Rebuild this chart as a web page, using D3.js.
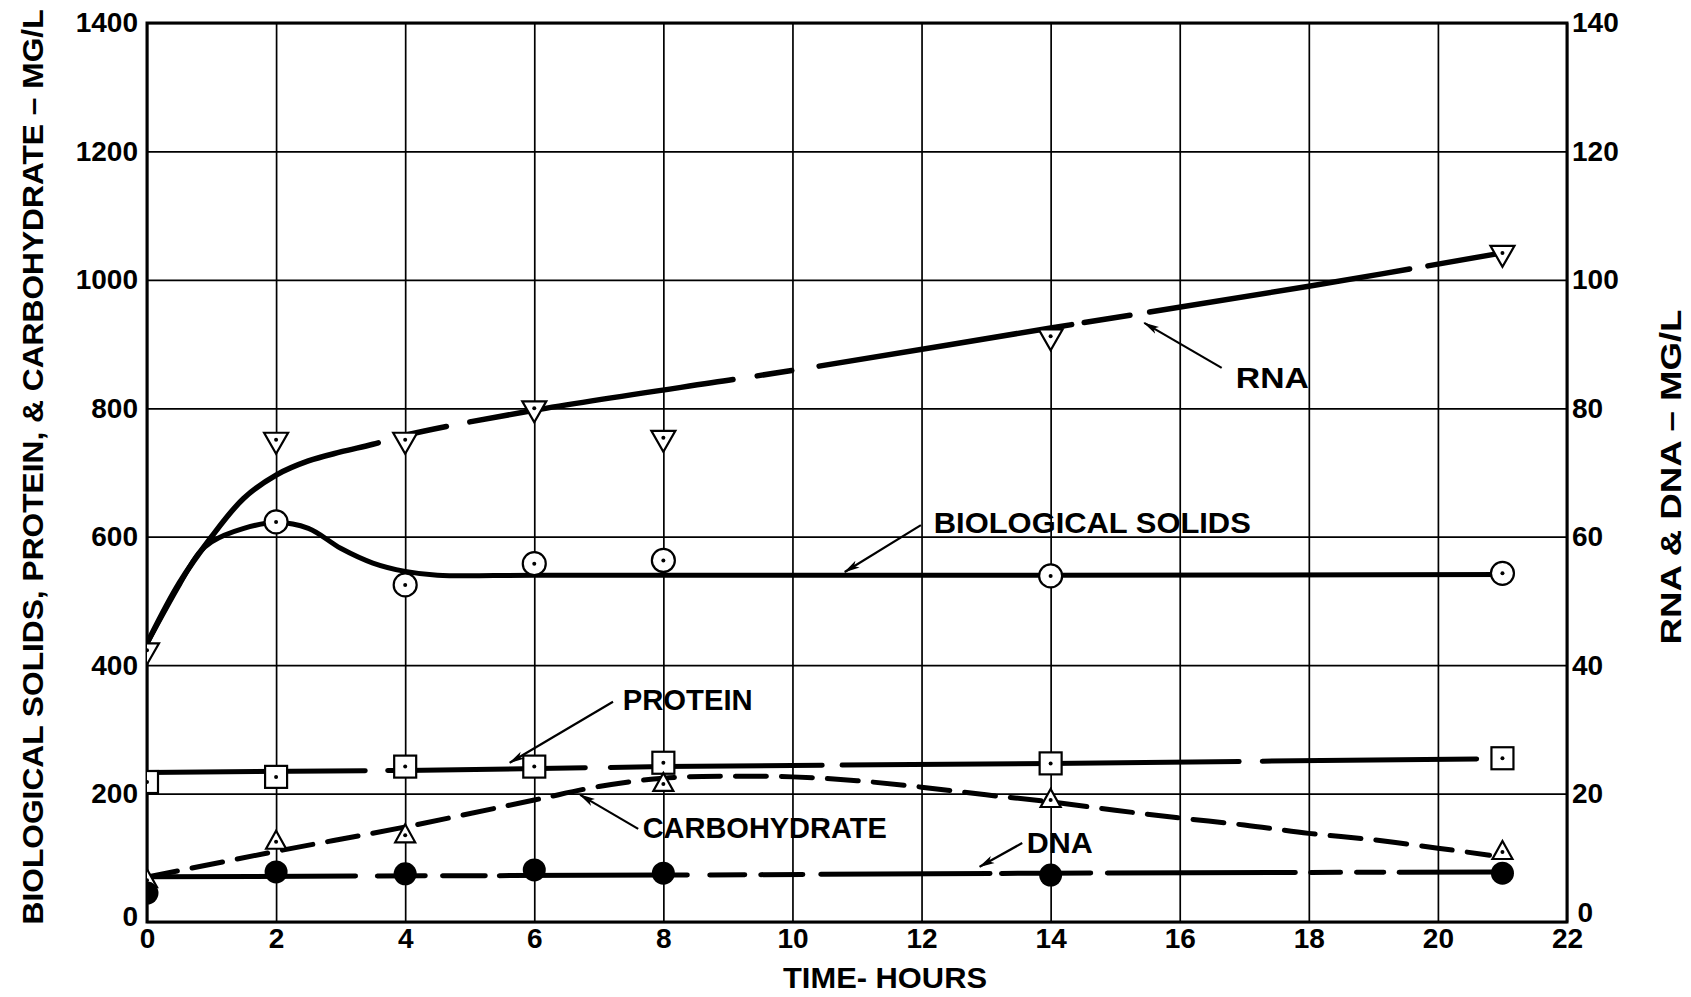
<!DOCTYPE html>
<html><head><meta charset="utf-8">
<script src="https://cdn.jsdelivr.net/npm/d3@7"></script>
<style>
html,body{margin:0;padding:0;background:#fff;}
svg{display:block;}
text{font-family:"Liberation Sans",Arial,sans-serif;font-weight:bold;fill:#000;}
</style></head><body>
<svg id="chart" width="1691" height="997"></svg>
<script>
// ---------------- DATA ----------------
const xTicks = [0,2,4,6,8,10,12,14,16,18,20,22];
const yLeftTicks = [0,200,400,600,800,1000,1200,1400];
const yRightTicks = [0,20,40,60,80,100,120,140];

// measured points (hours)
const rnaHours = [0,2,4,6,8,14,21];
const rnaValues = [42.3,75.1,75.1,80.0,75.4,91.2,104.2];          // right axis, mg/L
const solidsHours = [2,4,6,8,14,21];
const solidsValues = [623,525,558,563,539,543];                  // left axis
const proteinHours = [0,2,4,6,8,14,21];
const proteinValues = [218,226,242,242,248,247,255];             // left axis
const carbHours = [0,2,4,8,14,21];
const carbValues = [65,125,135,215,190,109];                     // left axis
const dnaHours = [0,2,4,6,8,14,21];
const dnaValues = [4.5,7.8,7.5,8.1,7.6,7.3,7.6];                 // right axis

// hand-fitted curves as drawn on the chart
const rnaCurveHours = [0,0.5,1,1.5,2,2.5,3,3.5,4,6,10,14,18,21];
const rnaCurveValues = [43.4,52.8,60.0,66.0,69.6,71.8,73.2,74.4,75.8,79.7,85.9,92.5,99.0,104.2];
const solidsCurveHours = [0,0.5,0.8,1,1.5,2,2.5,3,3.5,4,4.5,6,10,14,21];
const solidsCurveValues = [434,525,574,592,613,622,613,582,559,546,540,540,540,540,541];
const proteinLineHours = [0,4,8,14,20.6];
const proteinLineValues = [233,236,242,247,254];
const carbLineHours = [0,2,4,6,7,8,9,10,11,12,13,14,15,16,17,18,19,20,20.8];
const carbLineValues = [70,110,148,190,211,224,227,226,220,210,198,187,174,162,151,138,128,115,104];
const dnaLineHours = [0,8,14,21];
const dnaLineValues = [7.05,7.3,7.6,7.8];

const annotationLabels = ["RNA","BIOLOGICAL SOLIDS","PROTEIN","CARBOHYDRATE","DNA"];

// ---------------- LAYOUT / STYLE ----------------
const W = 1691, H = 997;
const plot = {left:147, top:23, right:1567, bottom:922};
// drawn (solid) stretches of each broken line, in hours
const rnaSolid = [[0,3.62],[3.95,4.68],[4.96,9.12],[9.41,10.03],[10.37,14.37],[14.48,15.27],[15.49,19.6],[19.8,21]];
const proteinSolid = [[0,3.42],[3.69,6.83],[7.14,10.5],[10.73,16.96],[17.24,20.6]];
const dnaSolid = [[0,3.27],[3.53,4.35],[4.54,5.28],[5.42,8.41],[8.68,9.3],[9.47,10.2],[10.4,13.1],[13.2,14.66],[14.84,17.83],[17.99,18.53],[18.7,19.2],[19.36,21]];
// annotation layout: text anchor (hours, left-axis units), text width px, arrow tail & head
const annotationLayout = [
  {t:16.87, v:832, w:73,  from:[16.65,863], to:[15.45,933]},
  {t:12.19, v:606, w:317, from:[11.99,618], to:[10.81,545]},
  {t:7.37,  v:330, w:130, from:[7.22,343],  to:[5.62,248]},
  {t:7.68,  v:131, w:244, from:[7.61,145],  to:[6.71,198]},
  {t:13.63, v:107, w:66,  from:[13.56,123], to:[12.9,86]}
];

const svg = d3.select("#chart");
svg.append("rect").attr("width",W).attr("height",H).attr("fill","#fff");

const x = d3.scaleLinear().domain([0,22]).range([plot.left, plot.right]);
const yL = d3.scaleLinear().domain([0,1400]).range([plot.bottom, plot.top]);
const yR = d3.scaleLinear().domain([0,140]).range([plot.bottom, plot.top]);

const defs = svg.append("defs");
defs.append("clipPath").attr("id","plotClip").append("rect")
  .attr("x",plot.left).attr("y",plot.top-20).attr("width",plot.right-plot.left).attr("height",plot.bottom-plot.top+20);
defs.append("marker").attr("id","arrow").attr("viewBox","0 0 16 10").attr("refX",15).attr("refY",5)
  .attr("markerWidth",16).attr("markerHeight",10).attr("markerUnits","userSpaceOnUse").attr("orient","auto")
  .append("path").attr("d","M0,1 L16,5 L0,9 L4,5 Z").attr("fill","#000");

// ---------------- GRID ----------------
const gx = svg.append("g").attr("transform",`translate(0,${plot.bottom})`)
  .call(d3.axisBottom(x).tickValues(xTicks).tickSize(-(plot.bottom-plot.top)).tickFormat(""));
gx.select(".domain").remove();
gx.selectAll("line").attr("stroke","#000").attr("stroke-width",1.7);
const gy = svg.append("g").attr("transform",`translate(${plot.left},0)`)
  .call(d3.axisLeft(yL).tickValues(yLeftTicks).tickSize(-(plot.right-plot.left)).tickFormat(""));
gy.select(".domain").remove();
gy.selectAll("line").attr("stroke","#000").attr("stroke-width",1.7);

svg.append("rect").attr("x",plot.left).attr("y",plot.top)
  .attr("width",plot.right-plot.left).attr("height",plot.bottom-plot.top)
  .attr("fill","none").attr("stroke","#000").attr("stroke-width",3);

// ---------------- AXIS LABELS ----------------
function styleAxis(g){
  g.select(".domain").remove();
  g.attr("font-family",null).attr("font-size",null);
  g.selectAll("text").attr("font-size",28).attr("fill","#000");
}
svg.append("g").attr("transform",`translate(${plot.left},0)`)
  .call(d3.axisLeft(yL).tickValues(yLeftTicks).tickSize(0).tickPadding(9).tickFormat(d3.format("d")))
  .call(styleAxis)
  .selectAll("text").filter(d=>d===0).attr("dy","0.14em");
svg.append("g").attr("transform",`translate(${plot.right},0)`)
  .call(d3.axisRight(yR).tickValues(yRightTicks).tickSize(0).tickPadding(5).tickFormat(d3.format("d")))
  .call(styleAxis)
  .selectAll("text").filter(d=>d===0).attr("dy","-0.02em").attr("dx","0.2em");
svg.append("g").attr("transform",`translate(0,${plot.bottom})`)
  .call(d3.axisBottom(x).tickValues(xTicks).tickSize(0).tickPadding(6).tickFormat(d3.format("d")))
  .call(styleAxis);

svg.append("text").attr("transform","translate(32,467) rotate(-90)")
  .attr("text-anchor","middle").attr("dy","0.358em").attr("font-size",30)
  .attr("textLength",915).attr("lengthAdjust","spacingAndGlyphs")
  .text("BIOLOGICAL SOLIDS, PROTEIN, & CARBOHYDRATE – MG/L");
svg.append("text").attr("transform","translate(1670,477) rotate(-90)")
  .attr("text-anchor","middle").attr("dy","0.358em").attr("font-size",30)
  .attr("textLength",335).attr("lengthAdjust","spacingAndGlyphs")
  .text("RNA & DNA – MG/L");
svg.append("text").attr("x",885).attr("y",988).attr("text-anchor","middle").attr("font-size",30)
  .attr("textLength",204).attr("lengthAdjust","spacingAndGlyphs")
  .text("TIME- HOURS");

// ---------------- LINES ----------------
const linesG = svg.append("g").attr("clip-path","url(#plotClip)");

function lengthAtX(node, xt){
  let lo = 0, hi = node.getTotalLength();
  for(let i=0;i<40;i++){
    const mid=(lo+hi)/2;
    if(node.getPointAtLength(mid).x < xt) lo=mid; else hi=mid;
  }
  return (lo+hi)/2;
}
function drawLine(hours, values, yScale, curve, sw, solid, dash){
  const pts = d3.zip(hours, values);
  const path = linesG.append("path").datum(pts)
    .attr("d", d3.line().x(d=>x(d[0])).y(d=>yScale(d[1])).curve(curve))
    .attr("fill","none").attr("stroke","#000").attr("stroke-width",sw)
    .attr("stroke-linecap","round").attr("stroke-linejoin","round");
  const node = path.node();
  if(solid){
    const total = node.getTotalLength();
    const arr = [];
    let pos = 0;
    solid.forEach(([a,b],i)=>{
      let la = a<=hours[0] ? 0 : lengthAtX(node, x(a)) + sw/2;
      let lb = b>=hours[hours.length-1] ? total : lengthAtX(node, x(b)) - sw/2;
      if(lb<la) lb=la+0.1;
      if(i===0 && la>0){ arr.push(0, la); }
      else if(i>0){ arr.push(la-pos); }
      arr.push(lb-la);
      pos = lb;
    });
    arr.push(total+100);
    if(arr.length%2===1) arr.push(0);
    path.attr("stroke-dasharray", arr.map(v=>Math.max(v,0.01).toFixed(2)).join(","));
  } else if(dash){
    path.attr("stroke-dasharray", dash);
  }
}
drawLine(solidsCurveHours, solidsCurveValues, yL, d3.curveCatmullRom.alpha(0.5), 5, null, null);
drawLine(rnaCurveHours, rnaCurveValues, yR, d3.curveCatmullRom.alpha(0.5), 5.5, rnaSolid, null);
drawLine(proteinLineHours, proteinLineValues, yL, d3.curveLinear, 5, proteinSolid, null);
drawLine(carbLineHours, carbLineValues, yL, d3.curveCatmullRom.alpha(0.5), 5, null, "31,15");
drawLine(dnaLineHours, dnaLineValues, yR, d3.curveLinear, 5, dnaSolid, null);

// ---------------- MARKERS ----------------
const markG = svg.append("g").attr("clip-path","url(#plotClip)");
const ms = 2.2;
function dot(g){ g.append("circle").attr("r",2).attr("fill","#000"); }

markG.selectAll(".rna").data(d3.zip(rnaHours, rnaValues)).join("g")
  .attr("transform",d=>`translate(${x(d[0])},${yR(d[1])})`)
  .each(function(){
    const g=d3.select(this);
    g.append("path").attr("d","M-12,-7 L12,-7 L0,14 Z").attr("fill","#fff").attr("stroke","#000").attr("stroke-width",ms).attr("stroke-linejoin","miter");
    dot(g);
  });
markG.selectAll(".sol").data(d3.zip(solidsHours, solidsValues)).join("g")
  .attr("transform",d=>`translate(${x(d[0])},${yL(d[1])})`)
  .each(function(){
    const g=d3.select(this);
    g.append("circle").attr("r",11.5).attr("fill","#fff").attr("stroke","#000").attr("stroke-width",ms);
    dot(g);
  });
markG.selectAll(".pro").data(d3.zip(proteinHours, proteinValues)).join("g")
  .attr("transform",d=>`translate(${x(d[0])},${yL(d[1])})`)
  .each(function(){
    const g=d3.select(this);
    g.append("rect").attr("x",-11).attr("y",-11).attr("width",22).attr("height",22).attr("fill","#fff").attr("stroke","#000").attr("stroke-width",ms);
    dot(g);
  });
markG.selectAll(".carb").data(d3.zip(carbHours, carbValues)).join("g")
  .attr("transform",d=>`translate(${x(d[0])},${yL(d[1])})`)
  .each(function(){
    const g=d3.select(this);
    g.append("path").attr("d","M-10,7 L10,7 L0,-11 Z").attr("fill","#fff").attr("stroke","#000").attr("stroke-width",ms).attr("stroke-linejoin","miter");
    dot(g);
  });
markG.selectAll(".dna").data(d3.zip(dnaHours, dnaValues)).join("circle")
  .attr("cx",d=>x(d[0])).attr("cy",d=>yR(d[1])).attr("r",11.5).attr("fill","#000");

// ---------------- ANNOTATIONS ----------------
const annG = svg.append("g");
annotationLabels.forEach((lab,i)=>{
  const a = annotationLayout[i];
  annG.append("text").attr("x",x(a.t)).attr("y",yL(a.v)).attr("font-size",30)
    .attr("textLength",a.w).attr("lengthAdjust","spacingAndGlyphs").text(lab);
  annG.append("line").attr("x1",x(a.from[0])).attr("y1",yL(a.from[1]))
    .attr("x2",x(a.to[0])).attr("y2",yL(a.to[1]))
    .attr("stroke","#000").attr("stroke-width",2.2).attr("marker-end","url(#arrow)");
});
</script>
</body></html>
